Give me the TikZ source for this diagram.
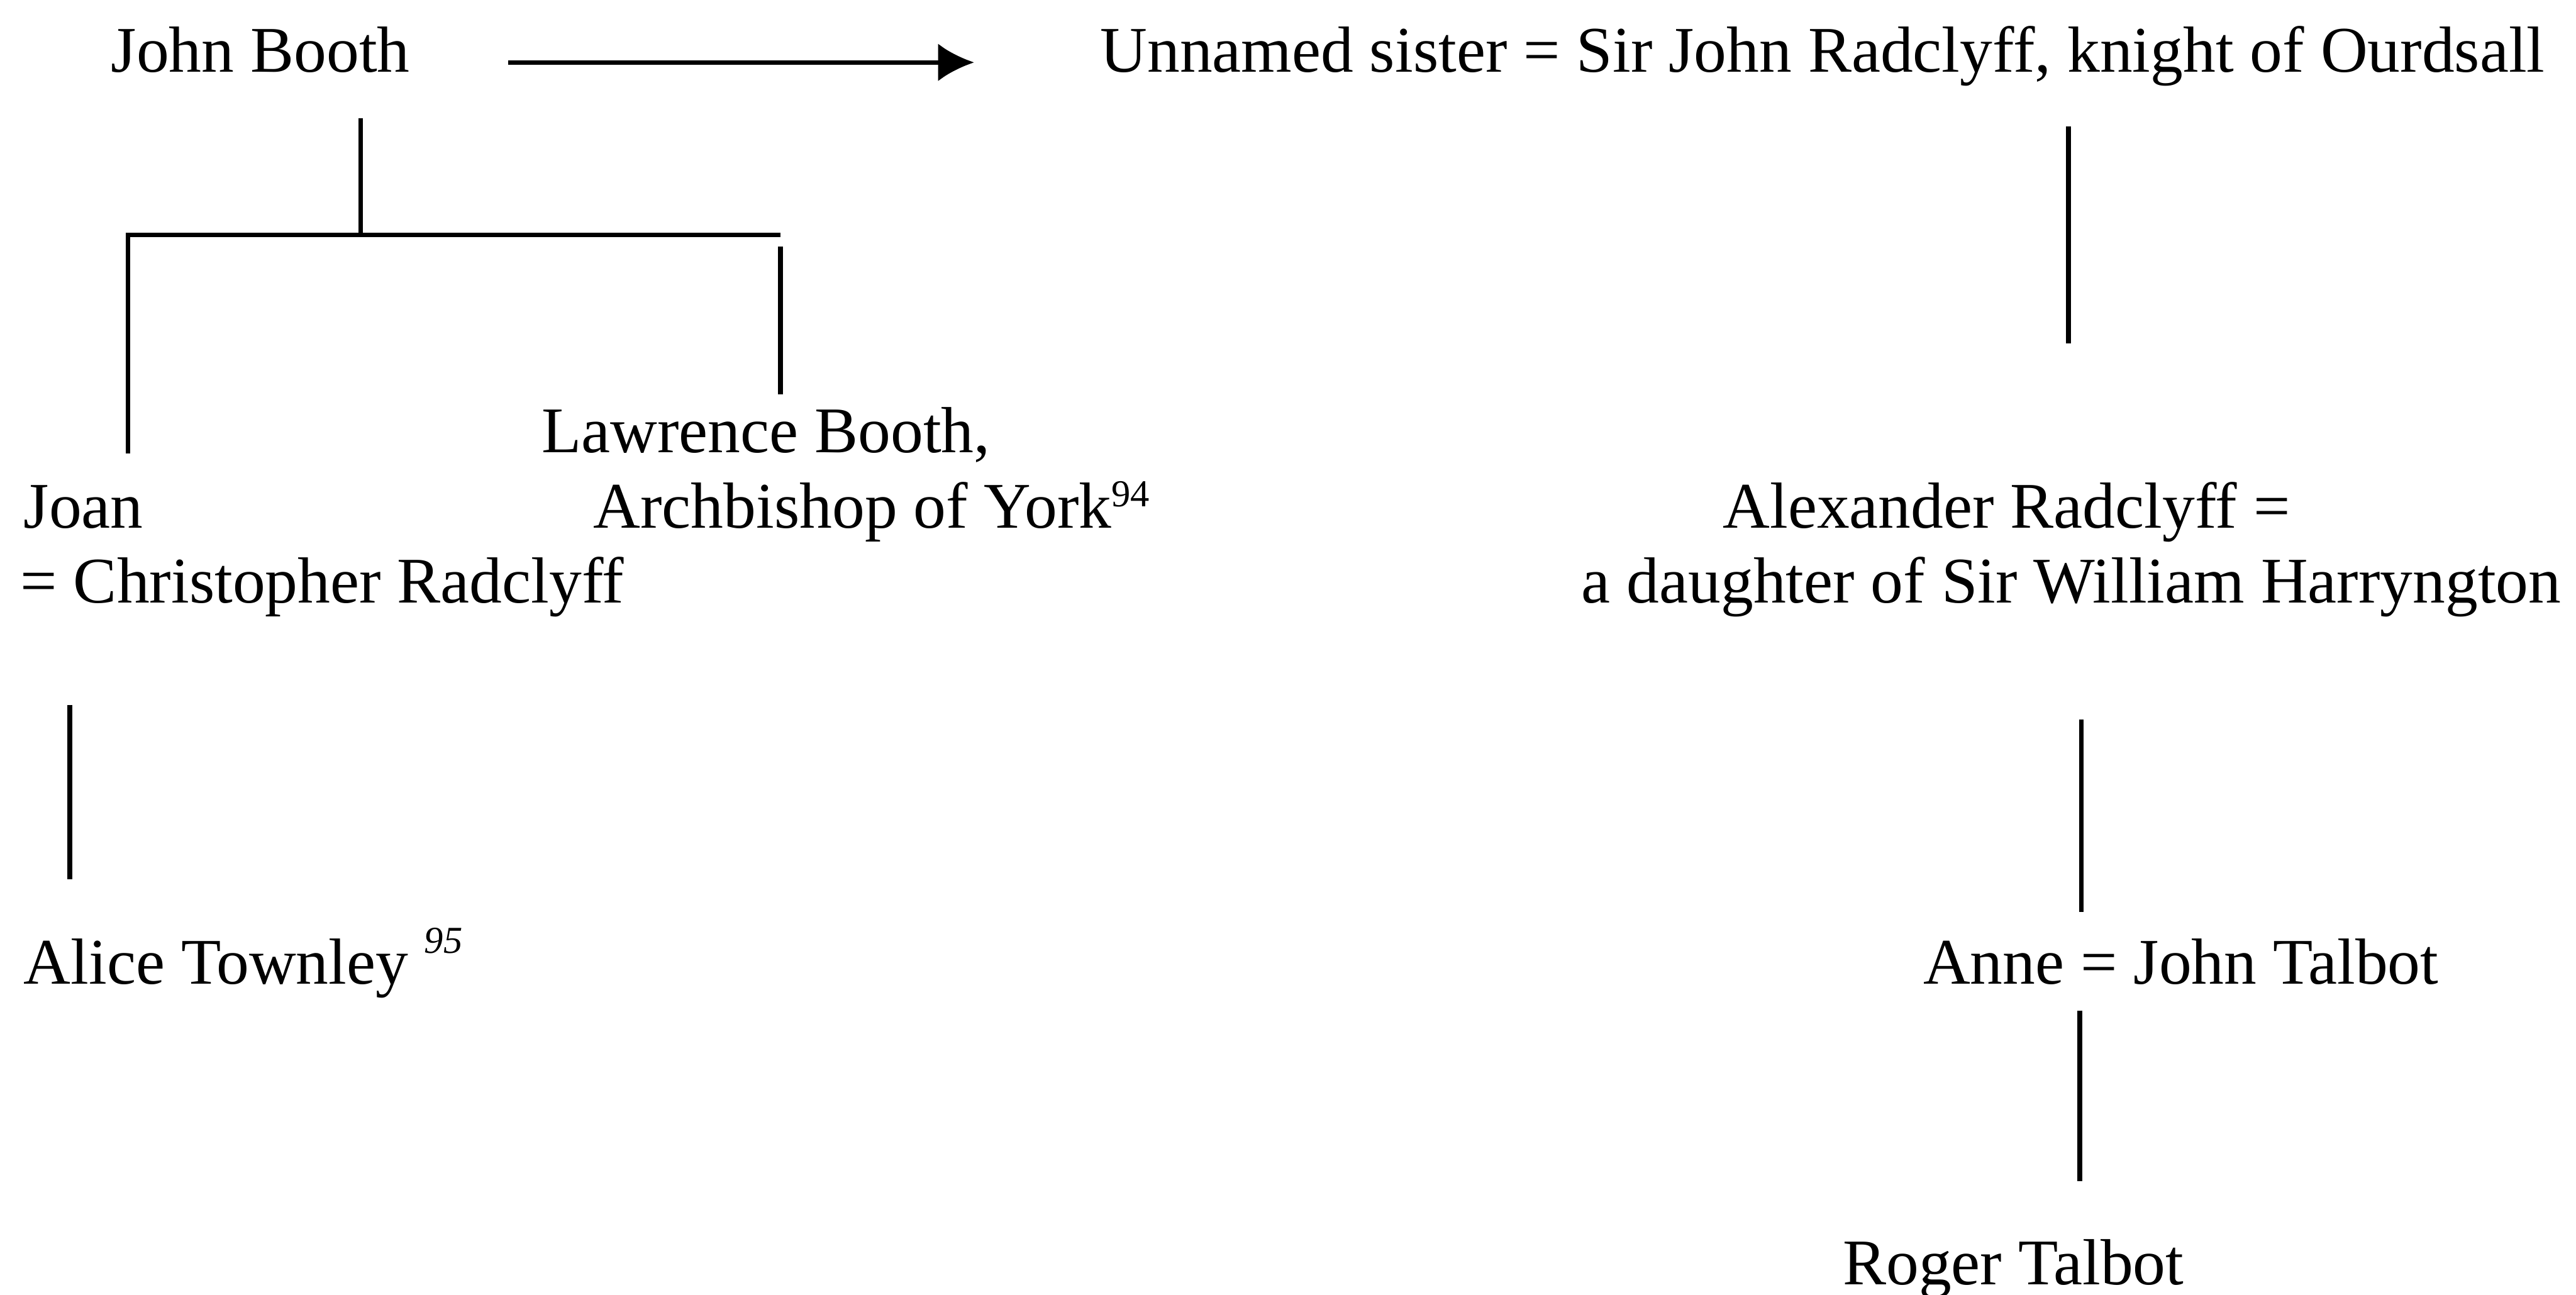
\documentclass[tikz,border=0pt]{standalone}
\usepackage{fontspec}
\setmainfont{Liberation Serif}
\usetikzlibrary{arrows.meta}
\newcommand{\fnmark}[2][3.7pt]{\raisebox{#1}{\fontsize{6.6}{8}\selectfont #2}}

\begin{document}
\begin{tikzpicture}[
	person/.style={anchor=base west, inner sep=0pt, font=\fontsize{11.28}{13}\selectfont},
	tie/.style={line width=0.8pt},
	]
			%%%%% START %%%%%
			\useasboundingbox (0, 0) rectangle (15.68, 7.88);
			
			% Booth side
			\node[person] (booth) at (0.67, 7.44) {John Booth};
			\node[person] (lawrence) at (3.29, 5.126) {Lawrence Booth,};
			\node[person] (archb) at (3.605, 4.665) {Archbishop of York\fnmark{94}};
			\node[person] (joan) at (0.138, 4.665) {Joan};
			\node[person] (chris) at (0.118, 4.21) {= Christopher Radclyff};
			\node[person] (alice) at (0.138, 1.89) {Alice Townley \fnmark[5.4pt]{\itshape 95}};
			
			% Radclyff side
			\node[person] (sister) at (6.69, 7.44) {Unnamed sister = Sir John Radclyff, knight of Ourdsall};
			\node[person] (alex) at (10.48, 4.665) {Alexander Radclyff =};
			\node[person] (daughter) at (9.62, 4.21) {a daughter of Sir William Harryngton};
			\node[person] (anne) at (11.70, 1.89) {Anne = John Talbot};
			\node[person] (roger) at (11.21, 0.06) {Roger Talbot};
			
			% line ends
			\coordinate (arrA) at (3.094, 7.50);
			\coordinate (arrB) at (5.93, 7.50);
			\coordinate (boothA) at (2.195, 7.16);
			\coordinate (fork) at (2.195, 6.45);
			\coordinate (joanA) at (0.78, 5.12);
			\coordinate (barR) at (4.75, 6.45);
			\coordinate (lawA) at (4.75, 6.38);
			\coordinate (lawB) at (4.75, 5.48);
			\coordinate (aliceA) at (0.425, 3.59);
			\coordinate (aliceB) at (0.425, 2.53);
			\coordinate (sisA) at (12.59, 7.11);
			\coordinate (sisB) at (12.59, 5.79);
			\coordinate (alexA) at (12.67, 3.50);
			\coordinate (alexB) at (12.67, 2.33);
			\coordinate (anneA) at (12.66, 1.73);
			\coordinate (anneB) at (12.66, 0.69);
			
			\draw[tie, -{Latex[length=2.2mm, width=2.3mm]}] (arrA) -- (arrB);
			\draw[tie] (boothA) -- (fork);
			\draw[tie] (joanA) |- (barR);
			\draw[tie] (lawA) -- (lawB);
			\draw[tie] (aliceA) -- (aliceB);
			\draw[tie] (sisA) -- (sisB);
			\draw[tie] (alexA) -- (alexB);
			\draw[tie] (anneA) -- (anneB);
			
			%%%%% END %%%%%
		\end{tikzpicture}
\end{document}
